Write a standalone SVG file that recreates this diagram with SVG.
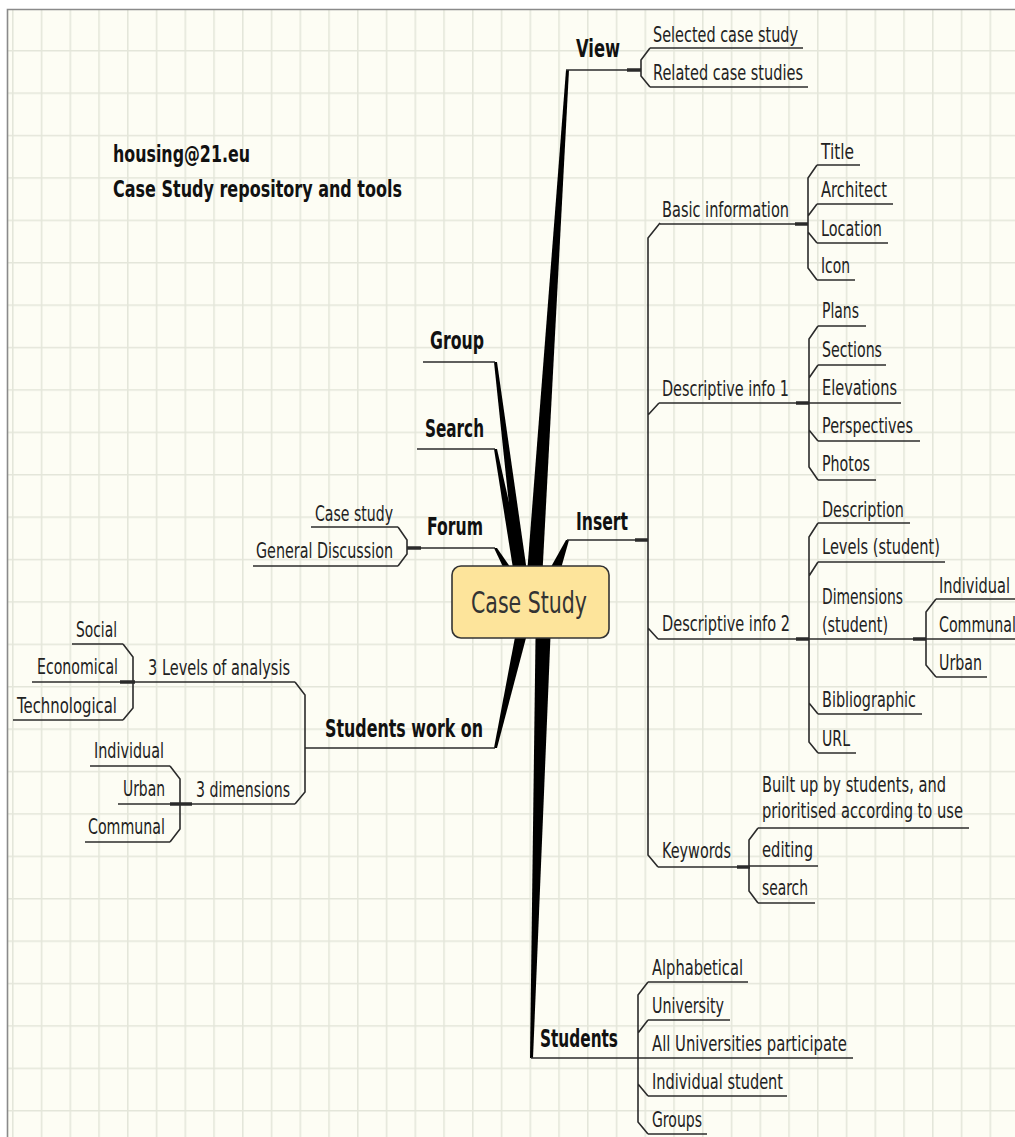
<svg xmlns="http://www.w3.org/2000/svg" width="1015" height="1137" viewBox="0 0 1015 1137">
<defs>
<pattern id="grid" x="12" y="7.6" width="28.75" height="42.4" patternUnits="userSpaceOnUse">
<rect width="28.75" height="42.4" fill="#fdfdf4"/>
<path d="M0.75,0 V42.4 M0,0.75 H28.75" stroke="#e4e6da" stroke-width="1.6" fill="none"/>
</pattern>
<style>
text{font-family:"DejaVu Sans","Liberation Sans",sans-serif;fill:#222}
.c{font-size:21px}
.m{font-size:24px;font-weight:bold;fill:#111}
.t{font-size:23px;font-weight:bold;fill:#111}
.ln{stroke:#2b2b2b;stroke-width:1.6;fill:none}
.tk{stroke:#2b2b2b;stroke-width:3.5;fill:none}
.w{fill:#000}
</style>
</defs>
<rect width="1015" height="1137" fill="#ffffff"/>
<rect x="7.5" y="9.5" width="1010" height="1130" fill="url(#grid)"/>
<path d="M7.5,1137 V9.5 H1015" stroke="#8a8a8a" stroke-width="1.6" fill="none"/>

<g id="connectors">
<polygon class="w" points="525,600 566,70 569,70 541,600"/>
<polygon class="w" points="494,362 497,362 531,600 519,600"/>
<polygon class="w" points="494,449 497,449 531,600 518,600"/>
<polygon class="w" points="494,548 497,548 526,590 514,590"/>
<polygon class="w" points="566,540 569,540 555,590 538,590"/>
<polygon class="w" points="494,748 497,748 536,600 522,600"/>
<polygon class="w" points="530,1058 533,1058 552,600 536,600"/>
<!-- main branch lines -->
<path class="ln" d="M566,70 H641 M423,362 H495 M417,449 H495 M407,548 H495 M567,540 H648 M305,748 H495 M531,1058 H638"/>
<!-- brackets -->
<path class="ln" d="M650,48 L641,60 L641,76 L650,87"/>
<path class="ln" d="M660,223 L648,238 L648,855 L658,867 M648,415 L659,403 M648,628 L658,639"/>
<path class="ln" d="M817,165 L808,178 L808,268 L817,280 M808,216 L817,204 M808,232 L817,243"/>
<path class="ln" d="M818,326 L809,339 L809,467 L818,480 M809,378 L818,365 M809,430 L818,441"/>
<path class="ln" d="M818,523 L809,537 L809,742 L818,753 M809,576 L818,562 M809,703 L818,714"/>
<path class="ln" d="M936,599 L926,612 L926,665 L936,677"/>
<path class="ln" d="M758,828 L749,840 L749,891 L758,903"/>
<path class="ln" d="M648,982 L638,995 L638,1122 L648,1134 M638,1033 L648,1020 M638,1084 L648,1096"/>
<path class="ln" d="M398,527 L407,540 L407,554 L398,566"/>
<path class="ln" d="M295,682 L305,695 L305,792 L295,804"/>
<path class="ln" d="M123,644 L133,657 L133,708 L123,720"/>
<path class="ln" d="M170,766 L180,779 L180,829 L170,842"/>
<!-- junction ticks -->
<path class="tk" d="M627,70 H641 M407,548 H421 M635,540 H648 M795,224 H808 M796,403 H809 M796,639 H809 M913,639 H926 M737,867 H750 M120,682 H135 M170,804 H192"/>
</g>

<g id="title">
<text class="t" x="113" y="162" textLength="137" lengthAdjust="spacingAndGlyphs">housing@21.eu</text>
<text class="t" x="113" y="197" textLength="289" lengthAdjust="spacingAndGlyphs">Case Study repository and tools</text>
</g>

<g id="case-study">
<rect x="452" y="566" width="157" height="72" rx="9" fill="#fde49b" stroke="#333" stroke-width="1.6"/>
<text x="471" y="613" textLength="116" lengthAdjust="spacingAndGlyphs" style="font-size:31px;fill:#333">Case Study</text>
</g>

<g id="view"><text class="m" x="576" y="57" textLength="44" lengthAdjust="spacingAndGlyphs">View</text></g>
<g id="selected-case-study"><text class="c" x="653" y="42" textLength="145" lengthAdjust="spacingAndGlyphs">Selected case study</text><path class="ln" d="M650,48 H803"/></g>
<g id="related-case-studies"><text class="c" x="653" y="80" textLength="150" lengthAdjust="spacingAndGlyphs">Related case studies</text><path class="ln" d="M650,87 H808"/></g>

<g id="group"><text class="m" x="430" y="349" textLength="54" lengthAdjust="spacingAndGlyphs">Group</text></g>
<g id="search"><text class="m" x="425" y="437" textLength="59" lengthAdjust="spacingAndGlyphs">Search</text></g>
<g id="forum"><text class="m" x="427" y="535" textLength="56" lengthAdjust="spacingAndGlyphs">Forum</text></g>
<g id="forum-case-study"><text class="c" x="315" y="521" textLength="78" lengthAdjust="spacingAndGlyphs">Case study</text><path class="ln" d="M311,527 H398"/></g>
<g id="general-discussion"><text class="c" x="256" y="558" textLength="137" lengthAdjust="spacingAndGlyphs">General Discussion</text><path class="ln" d="M253,566 H398"/></g>

<g id="insert"><text class="m" x="576" y="530" textLength="52" lengthAdjust="spacingAndGlyphs">Insert</text></g>
<g id="basic-information"><text class="c" x="662" y="217" textLength="127" lengthAdjust="spacingAndGlyphs">Basic information</text><path class="ln" d="M660,224 H808"/></g>
<g id="title-item"><text class="c" x="821" y="159" textLength="33" lengthAdjust="spacingAndGlyphs">Title</text><path class="ln" d="M817,165 H860"/></g>
<g id="architect"><text class="c" x="821" y="197" textLength="66" lengthAdjust="spacingAndGlyphs">Architect</text><path class="ln" d="M817,204 H893"/></g>
<g id="location"><text class="c" x="821" y="236" textLength="61" lengthAdjust="spacingAndGlyphs">Location</text><path class="ln" d="M817,243 H888"/></g>
<g id="icon"><text class="c" x="821" y="273" textLength="29" lengthAdjust="spacingAndGlyphs">Icon</text><path class="ln" d="M817,280 H855"/></g>

<g id="descriptive-info-1"><text class="c" x="662" y="396" textLength="127" lengthAdjust="spacingAndGlyphs">Descriptive info 1</text><path class="ln" d="M659,403 H809"/></g>
<g id="plans"><text class="c" x="822" y="318" textLength="37" lengthAdjust="spacingAndGlyphs">Plans</text><path class="ln" d="M818,326 H866"/></g>
<g id="sections"><text class="c" x="822" y="357" textLength="60" lengthAdjust="spacingAndGlyphs">Sections</text><path class="ln" d="M818,365 H886"/></g>
<g id="elevations"><text class="c" x="822" y="395" textLength="75" lengthAdjust="spacingAndGlyphs">Elevations</text><path class="ln" d="M809,403 H901"/></g>
<g id="perspectives"><text class="c" x="822" y="433" textLength="91" lengthAdjust="spacingAndGlyphs">Perspectives</text><path class="ln" d="M818,441 H920"/></g>
<g id="photos"><text class="c" x="822" y="471" textLength="48" lengthAdjust="spacingAndGlyphs">Photos</text><path class="ln" d="M818,480 H876"/></g>

<g id="descriptive-info-2"><text class="c" x="662" y="631" textLength="128" lengthAdjust="spacingAndGlyphs">Descriptive info 2</text><path class="ln" d="M658,639 H809"/></g>
<g id="description"><text class="c" x="822" y="517" textLength="82" lengthAdjust="spacingAndGlyphs">Description</text><path class="ln" d="M818,523 H910"/></g>
<g id="levels-student"><text class="c" x="822" y="554" textLength="118" lengthAdjust="spacingAndGlyphs">Levels (student)</text><path class="ln" d="M818,562 H945"/></g>
<g id="dimensions-student"><text class="c" x="822" y="604" textLength="81" lengthAdjust="spacingAndGlyphs">Dimensions</text><text class="c" x="822" y="632" textLength="66" lengthAdjust="spacingAndGlyphs">(student)</text><path class="ln" d="M809,639 H926"/></g>
<g id="dim-individual"><text class="c" x="939" y="593" textLength="71" lengthAdjust="spacingAndGlyphs">Individual</text><path class="ln" d="M936,599 H1015"/></g>
<g id="dim-communal"><text class="c" x="939" y="632" textLength="77" lengthAdjust="spacingAndGlyphs">Communal</text><path class="ln" d="M926,639 H1015"/></g>
<g id="dim-urban"><text class="c" x="939" y="670" textLength="43" lengthAdjust="spacingAndGlyphs">Urban</text><path class="ln" d="M936,677 H987"/></g>
<g id="bibliographic"><text class="c" x="822" y="707" textLength="94" lengthAdjust="spacingAndGlyphs">Bibliographic</text><path class="ln" d="M818,714 H922"/></g>
<g id="url"><text class="c" x="822" y="746" textLength="28" lengthAdjust="spacingAndGlyphs">URL</text><path class="ln" d="M818,753 H856"/></g>

<g id="keywords"><text class="c" x="662" y="858" textLength="69" lengthAdjust="spacingAndGlyphs">Keywords</text><path class="ln" d="M658,867 H750"/></g>
<g id="built-up"><text class="c" x="762" y="792" textLength="184" lengthAdjust="spacingAndGlyphs">Built up by students, and</text><text class="c" x="762" y="818" textLength="201" lengthAdjust="spacingAndGlyphs">prioritised according to use</text><path class="ln" d="M758,828 H969"/></g>
<g id="editing"><text class="c" x="762" y="857" textLength="51" lengthAdjust="spacingAndGlyphs">editing</text><path class="ln" d="M749,866 H818"/></g>
<g id="search-kw"><text class="c" x="762" y="895" textLength="46" lengthAdjust="spacingAndGlyphs">search</text><path class="ln" d="M758,903 H815"/></g>

<g id="students"><text class="m" x="540" y="1047" textLength="78" lengthAdjust="spacingAndGlyphs">Students</text></g>
<g id="alphabetical"><text class="c" x="652" y="975" textLength="91" lengthAdjust="spacingAndGlyphs">Alphabetical</text><path class="ln" d="M648,982 H748"/></g>
<g id="university"><text class="c" x="652" y="1013" textLength="72" lengthAdjust="spacingAndGlyphs">University</text><path class="ln" d="M648,1020 H730"/></g>
<g id="all-universities"><text class="c" x="652" y="1051" textLength="195" lengthAdjust="spacingAndGlyphs">All Universities participate</text><path class="ln" d="M638,1058 H853"/></g>
<g id="individual-student"><text class="c" x="652" y="1089" textLength="131" lengthAdjust="spacingAndGlyphs">Individual student</text><path class="ln" d="M648,1096 H787"/></g>
<g id="groups"><text class="c" x="652" y="1127" textLength="50" lengthAdjust="spacingAndGlyphs">Groups</text><path class="ln" d="M648,1134 H707"/></g>

<g id="students-work-on"><text class="m" x="325" y="737" textLength="158" lengthAdjust="spacingAndGlyphs">Students work on</text></g>
<g id="levels-of-analysis"><text class="c" x="148" y="675" textLength="142" lengthAdjust="spacingAndGlyphs">3 Levels of analysis</text><path class="ln" d="M133,682 H295"/></g>
<g id="social"><text class="c" x="76" y="637" textLength="41" lengthAdjust="spacingAndGlyphs">Social</text><path class="ln" d="M72,644 H123"/></g>
<g id="economical"><text class="c" x="37" y="674" textLength="81" lengthAdjust="spacingAndGlyphs">Economical</text><path class="ln" d="M32,682 H133"/></g>
<g id="technological"><text class="c" x="17" y="713" textLength="100" lengthAdjust="spacingAndGlyphs">Technological</text><path class="ln" d="M13,720 H123"/></g>
<g id="three-dimensions"><text class="c" x="196" y="797" textLength="94" lengthAdjust="spacingAndGlyphs">3 dimensions</text><path class="ln" d="M180,804 H295"/></g>
<g id="left-individual"><text class="c" x="94" y="758" textLength="70" lengthAdjust="spacingAndGlyphs">Individual</text><path class="ln" d="M90,766 H170"/></g>
<g id="left-urban"><text class="c" x="123" y="796" textLength="42" lengthAdjust="spacingAndGlyphs">Urban</text><path class="ln" d="M118,804 H180"/></g>
<g id="left-communal"><text class="c" x="88" y="834" textLength="77" lengthAdjust="spacingAndGlyphs">Communal</text><path class="ln" d="M85,842 H170"/></g>
</svg>
